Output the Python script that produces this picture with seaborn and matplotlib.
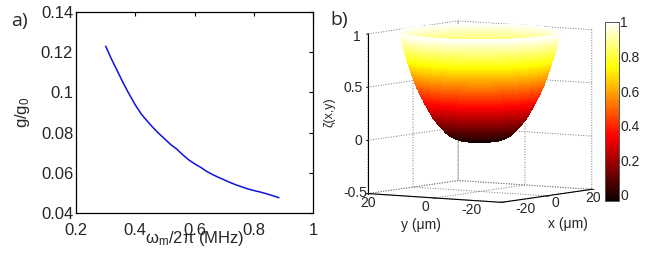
import numpy as np
import matplotlib
matplotlib.use('Agg')
import matplotlib.pyplot as plt
import seaborn as sns
import pandas as pd
from matplotlib.cm import ScalarMappable
from matplotlib.colors import Normalize

# panel a
omega_m = [0.30, 0.32, 0.34, 0.36, 0.38, 0.40, 0.42, 0.44, 0.46, 0.48, 0.50, 0.52, 0.54, 0.56, 0.58, 0.60,
           0.62, 0.64, 0.66, 0.68, 0.70, 0.72, 0.74, 0.76, 0.78, 0.80, 0.82, 0.84, 0.86, 0.885]
g_ratio = [0.1230, 0.1165, 0.1105, 0.1045, 0.0990, 0.0938, 0.0893, 0.0858, 0.0825, 0.0795, 0.0768, 0.0740, 0.0718, 0.0690, 0.0665, 0.0645,
           0.0628, 0.0608, 0.0592, 0.0578, 0.0565, 0.0552, 0.0540, 0.0530, 0.0520, 0.0512, 0.0505, 0.0497, 0.0488, 0.0476]
x_ticks = [0.2, 0.4, 0.6, 0.8, 1]
x_labels = ['0.2', '0.4', '0.6', '0.8', '1']
y_ticks = [0.04, 0.06, 0.08, 0.1, 0.12, 0.14]
y_labels = ['0.04', '0.06', '0.08', '0.1', '0.12', '0.14']

# panel b, radial profile of the bowl
zeta_levels = [-0.035, -0.03, -0.02, -0.01, 0, 0.02, 0.04, 0.06, 0.08, 0.1, 0.12, 0.14, 0.16, 0.18, 0.2, 0.22, 0.24, 0.26, 0.28,
               0.3, 0.32, 0.34, 0.36, 0.38, 0.4, 0.42, 0.44, 0.46, 0.48, 0.5, 0.52, 0.54, 0.56, 0.58, 0.6, 0.62, 0.64,
               0.66, 0.68, 0.7, 0.72, 0.74, 0.76, 0.78, 0.8, 0.82, 0.84, 0.86, 0.88, 0.9, 0.92, 0.94, 0.96, 0.98, 1]
bowl_radius = [0, 3.0, 4.9, 5.7, 6.4, 7.4, 8.1, 8.7, 9.1, 9.7, 10.2, 10.6, 11.0, 11.4, 11.8, 12.1, 12.4, 12.7, 13.0,
               13.3, 13.6, 13.9, 14.1, 14.4, 14.7, 15.0, 15.2, 15.4, 15.7, 15.9, 16.1, 16.3, 16.5, 16.7, 16.9, 17.1, 17.3,
               17.4, 17.6, 17.8, 17.9, 18.1, 18.3, 18.4, 18.6, 18.7, 18.9, 19.0, 19.2, 19.3, 19.5, 19.6, 19.8, 19.9, 20.0]
xy_ticks = [-20, 0, 20]
xy_labels = ['-20', '0', '20']
z_ticks = [-0.5, 0, 0.5, 1]
z_labels = ['-0.5', '0', '0.5', '1']
cbar_ticks = [0, 0.2, 0.4, 0.6, 0.8, 1]
cbar_labels = ['0', '0.2', '0.4', '0.6', '0.8', '1']

# where the 3d tick labels sit in the picture, in pixels
y_label_pos = [(472, 210), (425, 207), (368, 203)]
x_label_pos = [(526, 209), (555, 203), (593, 198)]
z_label_pos = [(367, 193), (362, 141), (363, 88), (361, 37)]

W, H = 655, 264

sns.set_style('white')
plt.rcParams['font.family'] = ['Liberation Sans', 'DejaVu Sans']
plt.rcParams['mathtext.fontset'] = 'custom'
plt.rcParams['mathtext.rm'] = 'Liberation Sans'
plt.rcParams['mathtext.it'] = 'Liberation Sans'
plt.rcParams['mathtext.default'] = 'rm'

fig = plt.figure(figsize=(W / 100, H / 100), dpi=100)

# Panel a
ax = fig.add_axes([76 / W, 1 - 213 / H, 237 / W, 201 / H])
df = pd.DataFrame({'omega': omega_m, 'g': g_ratio})
sns.lineplot(data=df, x='omega', y='g', color='#1010e0', linewidth=1.1, ax=ax)
ax.set_xlim(0.2, 1)
ax.set_ylim(0.04, 0.14)
ax.set_xticks(x_ticks, x_labels)
ax.set_yticks(y_ticks, y_labels)
ax.tick_params(direction='in', length=3, width=0.8, top=True, right=True, labelsize=12, pad=2, color='black')
ax.tick_params(axis='x', pad=7)
ax.set_xlabel('')
ax.set_ylabel('')
for s in ax.spines.values():
    s.set_color('black')
    s.set_linewidth(0.9)
fig.text(195 / W, 1 - 238 / H, r'$\omega_{m}$/2$\pi$ (MHz)', fontsize=12, ha='center', va='center')
fig.text(22 / W, 1 - 112 / H, r'g/g$_{0}$', fontsize=12, rotation=90, ha='center', va='center')
fig.text(11 / W, 1 - 21 / H, 'a)', fontsize=14, family='Open Sans', ha='left', va='center')
fig.text(330 / W, 1 - 20 / H, 'b)', fontsize=14, family='Open Sans', ha='left', va='center')

# Panel b
ax3 = fig.add_axes([341.5 / W, 1 - 240 / H, 270 / W, 250 / H], projection='3d', proj_type='ortho')
theta = np.linspace(0, 2 * np.pi, 181)
R, T = np.meshgrid(bowl_radius, theta)
Z = np.tile(zeta_levels, (len(theta), 1))
norm = Normalize(-0.035, 1)
ax3.plot_surface(R * np.cos(T), R * np.sin(T), Z, cmap='hot', norm=norm, rstride=1, cstride=1,
                 linewidth=0, antialiased=False, shade=False)
ax3.view_init(elev=5.6, azim=214)
ax3.set_box_aspect((1, 1, 0.995), zoom=1.0825)
ax3.set_xlim(-20, 20, view_margin=0)
ax3.set_ylim(-20, 20, view_margin=0)
ax3.set_zlim(-0.5, 1, view_margin=0)
ax3.set_xticks(xy_ticks, [''] * 3)
ax3.set_yticks(xy_ticks, [''] * 3)
ax3.set_zticks(z_ticks, [''] * 4)
ax3.patch.set_alpha(0)
for a in (ax3.xaxis, ax3.yaxis, ax3.zaxis):
    a.set_pane_color((1, 1, 1, 0))
    a.pane.set_edgecolor((1, 1, 1, 0))
    a.line.set_color('black')
    a._axinfo['grid'].update(color='#777777', linewidth=0.7, linestyle=':')
ax3.zaxis.set_ticks_position('upper')
for label, (px, py) in zip(xy_labels, y_label_pos):
    fig.text(px / W, 1 - py / H, label, fontsize=10, ha='center', va='center')
for label, (px, py) in zip(xy_labels, x_label_pos):
    fig.text(px / W, 1 - py / H, label, fontsize=10, ha='center', va='center')
for label, (px, py) in zip(z_labels, z_label_pos):
    fig.text(px / W, 1 - py / H, label, fontsize=10, ha='right', va='center')
fig.text(421 / W, 1 - 225 / H, 'y (\u03bcm)', fontsize=10, ha='center', va='center')
fig.text(568 / W, 1 - 224 / H, 'x (\u03bcm)', fontsize=10, ha='center', va='center')
fig.text(329 / W, 1 - 112 / H, '\u03b6(x,y)', fontsize=9, rotation=90, ha='center', va='center')

# Colorbar
cax = fig.add_axes([605 / W, 1 - 201 / H, 14 / W, 179 / H])
cbar = fig.colorbar(ScalarMappable(norm=norm, cmap='hot'), cax=cax)
cbar.set_ticks(cbar_ticks, labels=cbar_labels)
cbar.ax.tick_params(labelsize=10, length=2, direction='in', pad=1, color='black')
cbar.outline.set_edgecolor('#555555')
cbar.outline.set_linewidth(0.7)

fig.savefig('out.png', dpi=100)
plt.close(fig)
